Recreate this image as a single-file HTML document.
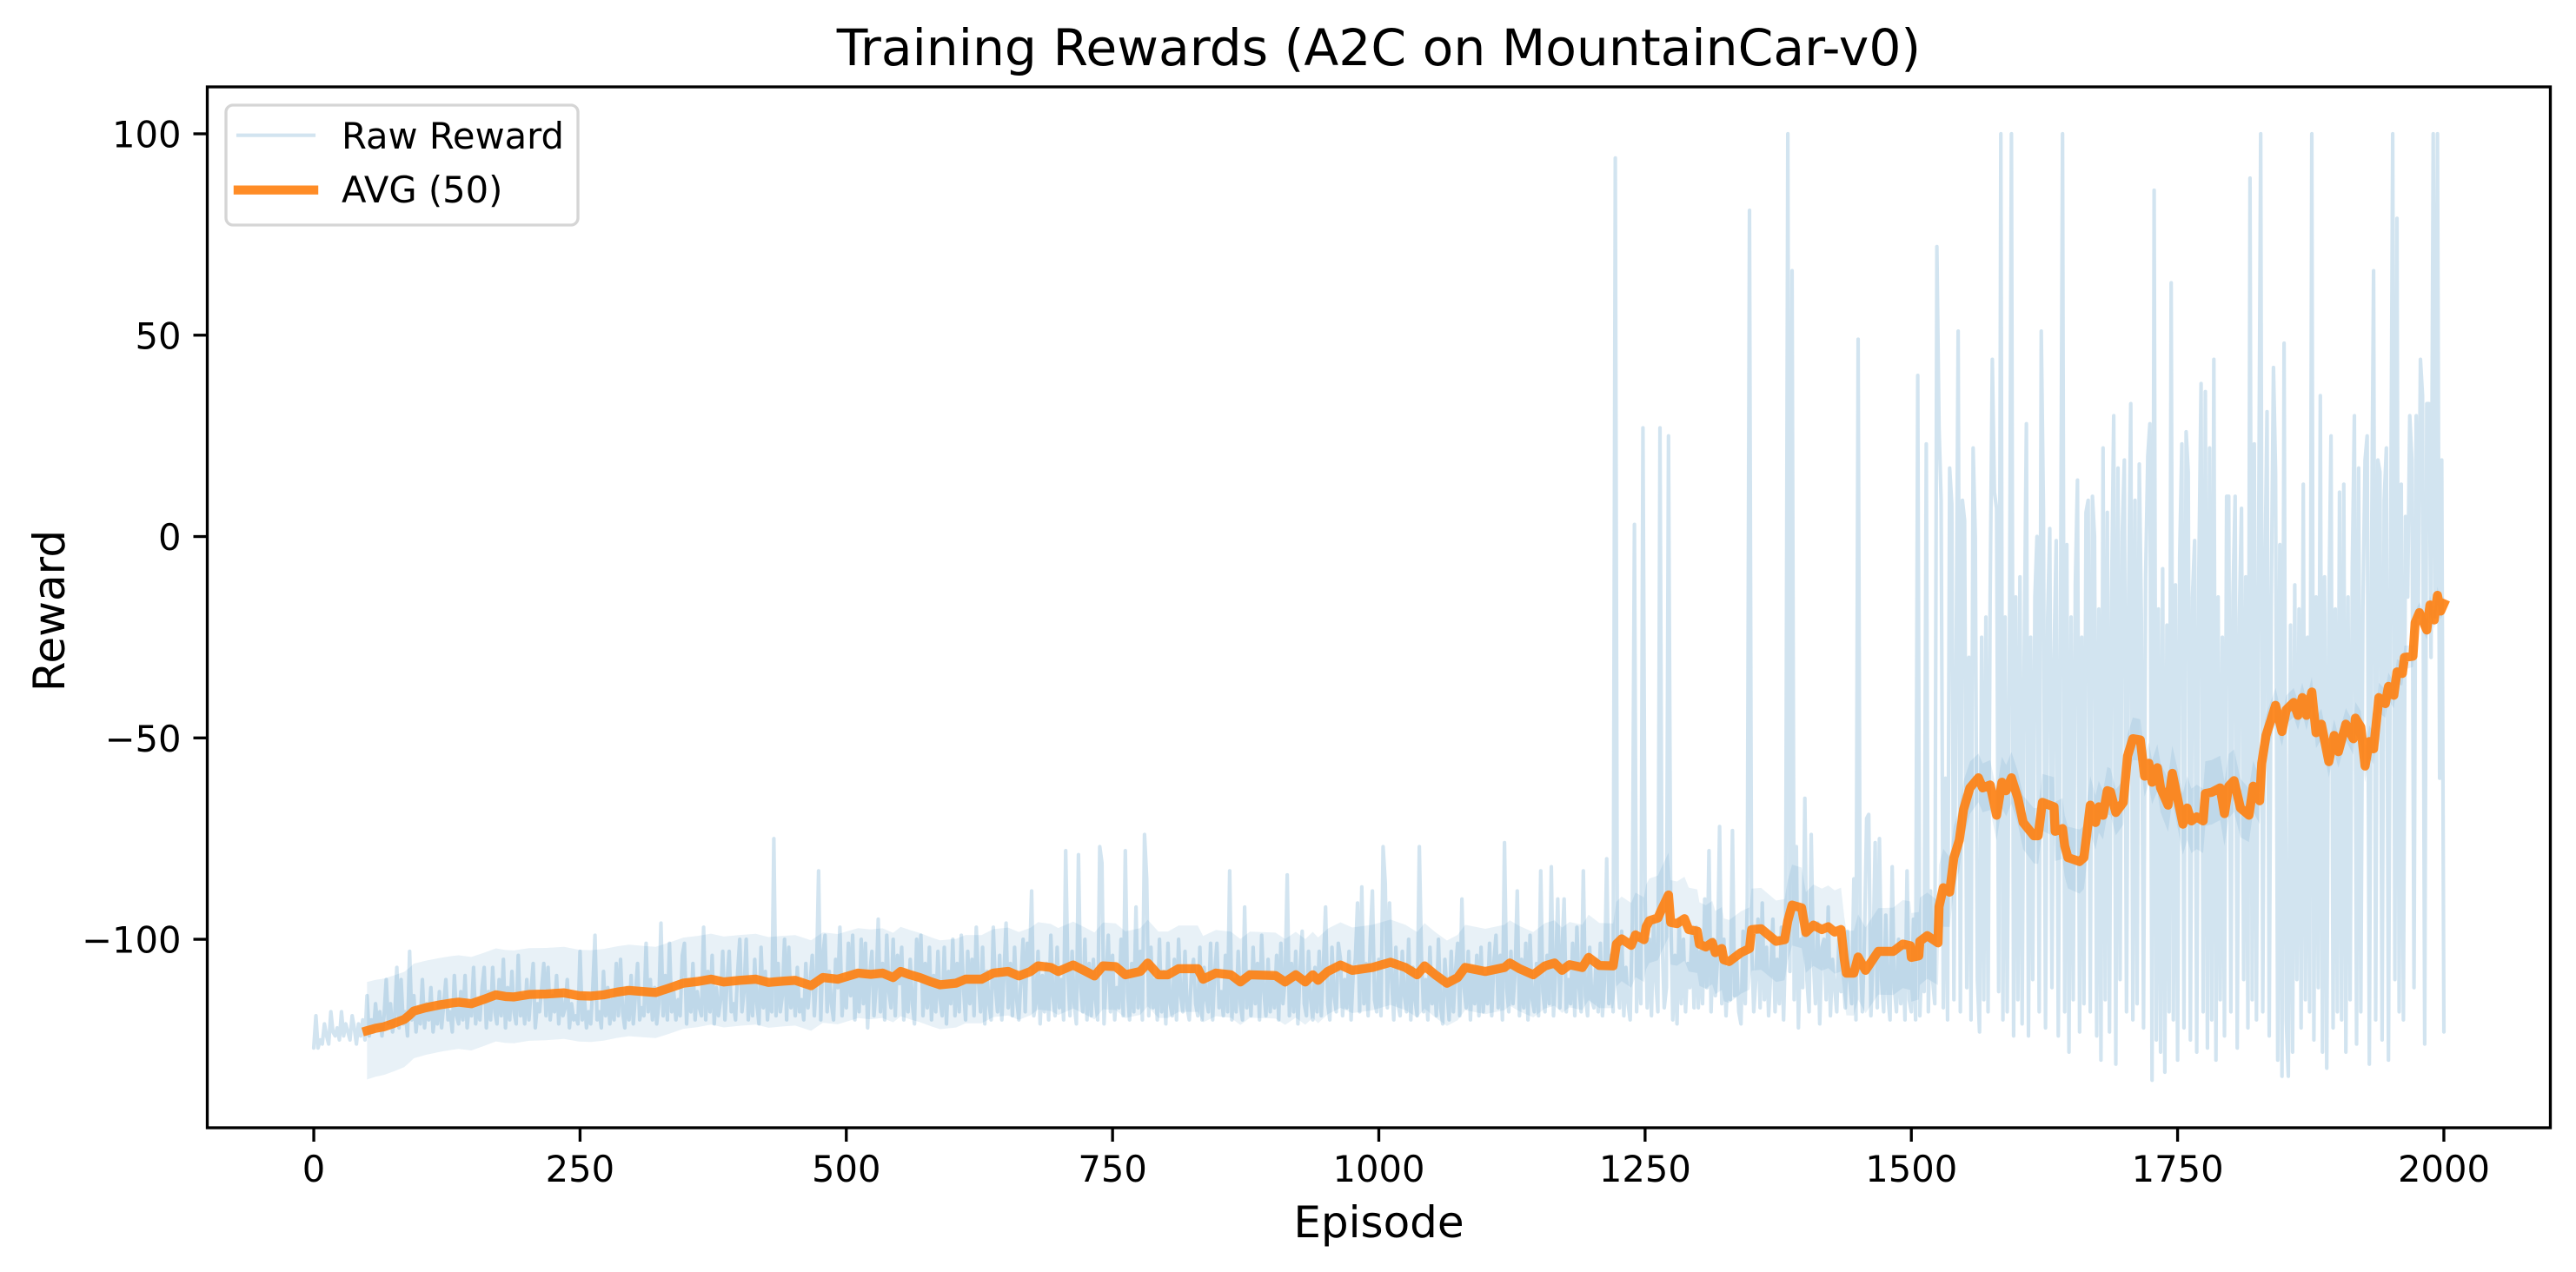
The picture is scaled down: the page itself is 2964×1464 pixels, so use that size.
<!DOCTYPE html>
<html lang="en">
<head>
<meta charset="utf-8">
<title>Training Rewards (A2C on MountainCar-v0)</title>
<style>
html,body{margin:0;padding:0;background:#fff}
svg{display:block}
text{font-family:"DejaVu Sans","Liberation Sans",sans-serif;fill:#000}
</style>
</head>
<body>
<svg id="chart" xmlns="http://www.w3.org/2000/svg" width="2964" height="1464" viewBox="0 0 2964 1464">
  <rect x="0" y="0" width="2964" height="1464" fill="#fff"/>
  <g id="series"></g>
  <rect x="238.5" y="100" width="2696" height="1198" fill="none" stroke="#000" stroke-width="3.33"/>
  <g id="ticks"></g>
  <text x="1586.5" y="75" font-size="58.33" text-anchor="middle">Training Rewards (A2C on MountainCar-v0)</text>
  <text x="1586.5" y="1424" font-size="50" text-anchor="middle">Episode</text>
  <text transform="translate(74 703) rotate(-90)" font-size="50" text-anchor="middle">Reward</text>
  <g>
    <rect x="260" y="121" width="405" height="138" rx="8" ry="8" fill="#fff" fill-opacity="0.8" stroke="#d5d5d5" stroke-width="3.33"/>
    <line x1="274" y1="155.7" x2="361" y2="155.7" stroke="#1f77b4" stroke-opacity="0.2" stroke-width="4.17" stroke-linecap="square"/>
    <text x="393" y="171" font-size="41.67">Raw Reward</text>
    <line x1="274" y1="218.7" x2="361" y2="218.7" stroke="#ff7f0e" stroke-opacity="0.9" stroke-width="10.42" stroke-linecap="square"/>
    <text x="393" y="233" font-size="41.67">AVG (50)</text>
  </g>
</svg>
<script>
var xTickValues = [0, 250, 500, 750, 1000, 1250, 1500, 1750, 2000];
var yTickValues = [-100, -50, 0, 50, 100];
var rawEpisodeStep = 2;
var rawRewards = [
-127,-119,-127,-125,-126,-121,-124,-126,-118,-123,
-124,-122,-125,-118,-124,-121,-123,-125,-119,-122,
-126,-121,-124,-120,-125,-114,-124,-120,-123,-116,
-122,-118,-124,-119,-110,-121,-116,-123,-119,-107,
-122,-110,-121,-118,-124,-103,-120,-114,-123,-117,
-121,-110,-122,-116,-120,-112,-123,-118,-121,-113,
-122,-116,-110,-120,-118,-123,-109,-119,-121,-113,
-120,-109,-122,-116,-119,-107,-121,-115,-120,-112,
-107,-122,-113,-120,-107,-118,-121,-110,-119,-105,
-122,-112,-120,-108,-118,-121,-104,-119,-114,-121,
-110,-120,-113,-106,-122,-116,-118,-112,-106,-119,
-107,-120,-114,-118,-109,-121,-113,-119,-117,-110,
-122,-116,-120,-119,-121,-103,-120,-114,-122,-118,
-121,-112,-99,-120,-118,-122,-108,-119,-112,-121,
-115,-120,-106,-119,-105,-118,-122,-112,-120,-109,
-121,-114,-106,-120,-117,-119,-101,-118,-110,-120,
-112,-121,-116,-96,-119,-109,-120,-101,-118,-113,
-120,-115,-119,-104,-101,-121,-110,-118,-106,-120,
-113,-117,-119,-97,-120,-108,-118,-104,-121,-112,
-119,-115,-103,-120,-111,-103,-118,-116,-120,-108,
-100,-118,-113,-100,-120,-110,-119,-105,-116,-121,
-102,-117,-108,-120,-112,-118,-75,-119,-106,-118,
-114,-100,-120,-102,-117,-110,-119,-107,-118,-115,
-120,-106,-117,-111,-104,-119,-109,-83,-120,-104,
-99,-118,-108,-116,-120,-105,-112,-97,-119,-110,
-117,-101,-114,-99,-120,-108,-118,-100,-116,-101,
-122,-109,-103,-119,-112,-95,-118,-106,-120,-99,
-113,-117,-100,-119,-104,-111,-102,-120,-108,-118,
-105,-116,-121,-100,-110,-99,-119,-106,-117,-102,
-120,-109,-118,-103,-115,-119,-102,-121,-108,-116,
-100,-119,-106,-118,-99,-112,-120,-103,-116,-105,
-119,-97,-110,-118,-102,-121,-108,-116,-120,-97,
-112,-118,-104,-120,-109,-96,-117,-106,-119,-102,
-115,-120,-110,-100,-118,-101,-107,-88,-119,-116,
-103,-121,-109,-118,-106,-120,-99,-114,-119,-102,
-117,-110,-120,-78,-108,-119,-103,-116,-121,-79,
-112,-118,-100,-120,-106,-119,-105,-115,-120,-77,
-81,-121,-109,-99,-118,-104,-120,-112,-117,-100,
-119,-78,-113,-120,-106,-118,-92,-117,-103,-120,
-74,-85,-119,-102,-117,-110,-120,-100,-118,-108,
-121,-101,-116,-119,-105,-120,-100,-114,-118,-103,
-117,-120,-109,-105,-116,-119,-102,-120,-107,-115,
-118,-101,-120,-108,-101,-117,-113,-119,-104,-118,
-83,-120,-110,-118,-103,-116,-120,-92,-117,-108,
-119,-102,-116,-106,-120,-99,-113,-119,-105,-118,
-109,-117,-104,-120,-101,-116,-110,-84,-119,-106,
-118,-103,-121,-108,-98,-116,-119,-103,-115,-120,
-107,-118,-103,-119,-106,-92,-116,-120,-102,-114,
-118,-101,-105,-119,-110,-117,-103,-120,-108,-105,
-91,-118,-87,-116,-106,-119,-100,-88,-115,-118,
-105,-119,-77,-86,-117,-91,-110,-120,-102,-116,
-119,-103,-114,-118,-100,-120,-107,-115,-119,-77,
-104,-118,-110,-120,-102,-116,-108,-119,-100,-117,
-121,-105,-113,-120,-103,-118,-108,-101,-119,-90,
-112,-117,-103,-120,-107,-116,-104,-119,-102,-118,
-109,-116,-101,-119,-106,-99,-117,-104,-120,-76,
-112,-118,-103,-116,-108,-88,-119,-105,-117,-101,
-120,-99,-115,-118,-106,-119,-83,-113,-118,-104,
-116,-82,-119,-108,-90,-117,-103,-90,-118,-110,
-116,-101,-119,-97,-112,-118,-83,-114,-119,-102,
-115,-117,-105,-118,-101,-119,-110,-80,-116,-104,
-118,94,-110,-117,-98,-119,-107,-116,-120,-96,
3,-118,-100,-116,27,-90,-117,-100,-119,-95,
-110,-118,27,-100,-117,-112,25,-92,-120,-104,
-121,-95,-116,-100,-118,-106,-112,-98,-117,-97,
-117,-103,-116,-90,-112,-78,-118,-100,-114,-105,
-72,-116,-100,-119,-107,-115,-73,-114,-105,-118,
-121,-98,-116,-90,81,-101,-118,-110,-95,-117,
-91,-115,-102,-119,-108,-95,-118,-105,-116,-97,
-120,-100,100,-108,66,-115,-77,-122,-100,-112,
-65,-110,-118,-74,-105,-116,-96,-121,-102,-100,
-115,-92,-119,-105,-112,-118,-100,-113,-109,-117,
-98,-110,-116,-85,-120,49,-104,-118,-100,-70,
-69,-119,-105,-76,-117,-75,-110,-118,-94,-114,
-120,-82,-112,-118,-100,-116,-102,-120,-83,-115,
-118,-95,-120,40,-119,-104,-113,23,-118,-88,
-110,-116,72,27,9,-117,-60,-120,17,8,
-115,-35,51,-118,9,4,-112,-30,-120,22,
0,-110,-123,-25,-115,-20,-118,-15,44,11,
7,-113,100,-120,-20,-118,-35,100,-124,-15,
-115,-10,-121,-30,28,-124,-25,-110,-15,0,
-118,51,7,-122,-20,2,-112,-30,-1,-124,
-25,100,-118,-2,-128,-20,-115,-12,14,-123,
-25,-116,6,9,-118,10,0,-124,-18,-130,
22,-115,6,-123,-15,30,-131,17,-110,1,
19,-118,-15,33,-120,9,-116,18,-20,-122,
-10,20,28,-135,86,-125,-18,-128,-8,-133,
-22,-118,63,-120,-12,-130,-5,23,-122,26,
16,-125,-15,-1,-128,-8,38,-118,36,-127,
22,-120,44,-130,-15,-115,-25,-124,10,10,
-118,-15,10,-127,-20,7,-110,-10,-122,89,
-115,23,-120,-8,100,-118,-10,31,-124,-15,
42,16,-130,-2,-134,48,-120,-134,-22,-128,
-12,-110,-18,-122,13,-115,-25,-118,100,-125,
-15,-112,35,-128,-10,-132,-20,25,-122,-18,
-118,11,-120,13,-128,-15,-115,-8,30,-126,
17,-118,-18,19,25,-131,-10,66,-120,19,
16,-125,9,22,-130,-5,100,-110,79,-118,
13,-120,5,-15,30,19,-112,30,-20,44,
35,-126,33,33,-30,100,-20,100,-60,19,
-123
];
var avgEpisodes = [
50,58,66,75,85,90,94,105,118,130,
136,148,160,171,180,188,202,218,235,249,
260,272,285,296,310,321,335,347,360,373,
385,400,415,427,440,452,467,478,492,511,
523,534,544,551,560,569,580,588,603,612,
627,638,652,662,673,680,692,699,713,723,
733,741,753,762,776,783,793,802,812,830,
835,847,861,870,879,903,912,922,931,938,
943,952,964,975,994,1011,1025,1036,1043,1053,
1064,1074,1081,1100,1118,1123,1132,1145,1156,1165,
1172,1179,1191,1197,1207,1220,1223,1228,1237,1241,
1249,1251,1254,1262,1265,1272,1274,1280,1287,1291,
1299,1301,1307,1313,1316,1322,1324,1329,1340,1348,
1350,1359,1373,1381,1384,1388,1397,1401,1408,1416,
1422,1428,1434,1437,1439,1446,1450,1457,1469,1483,
1492,1499,1500,1507,1508,1515,1525,1526,1530,1536,
1540,1545,1549,1555,1563,1567,1574,1580,1585,1589,
1594,1600,1605,1615,1619,1623,1634,1635,1642,1644,
1647,1658,1662,1668,1673,1676,1680,1684,1687,1692,
1699,1703,1708,1715,1719,1723,1726,1731,1734,1741,
1745,1749,1755,1759,1763,1768,1774,1776,1782,1790,
1794,1798,1803,1809,1817,1821,1827,1829,1833,1839,
1842,1848,1852,1859,1863,1867,1871,1876,1880,1885,
1892,1897,1901,1908,1915,1917,1922,1926,1930,1934,
1939,1945,1948,1953,1956,1961,1963,1971,1973,1977,
1984,1987,1991,1994,1997,2000
];
var avgRewards = [
-122.7,-122.1,-121.7,-120.9,-119.9,-118.8,-117.8,-117,-116.3,-115.8,
-115.6,-116,-114.9,-113.8,-114.2,-114.3,-113.7,-113.6,-113.3,-114,
-114.1,-113.8,-113.1,-112.7,-113,-113.2,-112,-110.9,-110.5,-109.9,
-110.6,-110.2,-109.9,-110.7,-110.4,-110.2,-111.5,-109.5,-109.9,-108.4,
-108.7,-108.4,-109.5,-108,-108.8,-109.5,-110.6,-111.3,-110.9,-109.9,
-109.9,-108.4,-108,-109.1,-108,-106.6,-107,-108,-106.4,-107.7,
-109.1,-106.6,-106.8,-108.8,-108,-105.9,-108.8,-108.8,-107.3,-107.3,
-109.9,-108.4,-108.8,-110.6,-108.8,-109,-110.6,-108.8,-110.6,-108.8,
-110.2,-108,-106.4,-107.7,-107,-105.7,-107,-108.8,-106.6,-108.8,
-110.9,-109.5,-107,-108,-107,-105.9,-107.3,-108.8,-106.6,-105.9,
-107.7,-106.3,-107,-104.5,-106.5,-106.6,-101.2,-99.9,-101.5,-98.9,
-100.1,-96.9,-95.4,-94.7,-92.9,-89,-95.8,-96.1,-94.9,-97.6,
-98,-101.2,-101.9,-100.8,-103.3,-102.3,-105.1,-105.5,-103.3,-102.3,
-97.6,-97.4,-100.5,-100.1,-95.4,-91.5,-92.2,-98.3,-96.5,-97.6,
-96.9,-98.2,-97.6,-104.8,-108.4,-108.4,-104.4,-107.7,-103,-103,
-101.2,-101.6,-104.5,-104.1,-100.5,-99.1,-100.9,-91.9,-87.2,-88.3,
-79.7,-75.4,-67.8,-62.4,-59.9,-62.4,-61.7,-69.2,-61,-63.1,
-59.9,-64.9,-71,-74.3,-74.3,-66,-67.1,-73.2,-72.5,-76.8,
-79.7,-80.7,-79.7,-66.7,-71,-67.1,-69.2,-63.1,-63.4,-68.5,
-66,-54.5,-50.2,-50.5,-59.5,-56.3,-61,-57.4,-62.4,-66.7,
-58.8,-63.8,-71.4,-67.4,-70.6,-69.6,-70.6,-63.8,-63.5,-62.4,
-68.8,-62,-60.6,-67.4,-69.2,-62,-65.6,-56.3,-49.4,-44.4,
-41.9,-48.4,-43,-41.2,-44.4,-40,-44.4,-38.6,-48.7,-46.6,
-55.9,-49.4,-53.4,-46.6,-50.2,-45.1,-47.3,-57,-50.9,-52.7,
-40,-41.5,-37.2,-39.4,-33.6,-34,-30,-29.7,-21.4,-18.9,
-23.2,-17,-20.7,-14.6,-18.5,-16.7
];
var bandEpisodes = [50,100,250,500,700,1000,1200,1225,1270,1400,1440,1500,1525,1540,1560,1600,1660,1680,1720,1760,1800,1825,1850,1900,1930,1960,2000];
var bandStd = [12.1,11.7,11.4,11.2,10.8,10.6,10.6,10.5,10.5,10,10.5,11,10.5,8,6,6.5,8,6,5,8,8,6,3.5,4,4,3,2];

var svgNS = 'http://www.w3.org/2000/svg';
var plotLeft = 238.5, plotRight = 2934.5, plotTop = 100, plotBottom = 1298;
var xMin = -100, xMax = 2100, yMin = -146.8, yMax = 111.65;

function xScale(v) { return plotLeft + (v - xMin) / (xMax - xMin) * (plotRight - plotLeft); }
function yScale(v) { return plotBottom - (v - yMin) / (yMax - yMin) * (plotBottom - plotTop); }
function bandAt(ep) {
  for (var i = 1; i < bandEpisodes.length; i++) {
    if (ep <= bandEpisodes[i]) {
      var t = (ep - bandEpisodes[i - 1]) / (bandEpisodes[i] - bandEpisodes[i - 1]);
      return bandStd[i - 1] + t * (bandStd[i] - bandStd[i - 1]);
    }
  }
  return bandStd[bandStd.length - 1];
}
function pt(x, y) { return x.toFixed(1) + ' ' + y.toFixed(1); }

var seriesGroup = document.getElementById('series');
var ticksGroup = document.getElementById('ticks');

var rawD = rawRewards.map(function (v, i) {
  return (i ? 'L' : 'M') + pt(xScale(i * rawEpisodeStep), yScale(v));
}).join('');
var rawPath = document.createElementNS(svgNS, 'path');


rawPath.setAttribute('d', rawD);
rawPath.setAttribute('fill', 'none');
rawPath.setAttribute('stroke', '#1f77b4');
rawPath.setAttribute('stroke-opacity', '0.2');
rawPath.setAttribute('stroke-width', '4.17');
rawPath.setAttribute('stroke-linejoin', 'round');
rawPath.setAttribute('stroke-linecap', 'round');
seriesGroup.appendChild(rawPath);

var upper = avgEpisodes.map(function (ep, i) { return pt(xScale(ep), yScale(avgRewards[i] + bandAt(ep))); });
var lower = avgEpisodes.map(function (ep, i) { return pt(xScale(ep), yScale(avgRewards[i] - bandAt(ep))); }).reverse();
var bandPath = document.createElementNS(svgNS, 'path');


bandPath.setAttribute('d', 'M' + upper.concat(lower).join('L') + 'Z');
bandPath.setAttribute('fill', '#1f77b4');
bandPath.setAttribute('fill-opacity', '0.1');
seriesGroup.appendChild(bandPath);

var avgD = avgEpisodes.map(function (ep, i) {
  return (i ? 'L' : 'M') + pt(xScale(ep), yScale(avgRewards[i]));
}).join('');
var avgPath = document.createElementNS(svgNS, 'path');


avgPath.setAttribute('d', avgD);
avgPath.setAttribute('fill', 'none');
avgPath.setAttribute('stroke', '#ff7f0e');
avgPath.setAttribute('stroke-opacity', '0.9');
avgPath.setAttribute('stroke-width', '10.42');
avgPath.setAttribute('stroke-linejoin', 'round');
avgPath.setAttribute('stroke-linecap', 'square');
seriesGroup.appendChild(avgPath);

xTickValues.forEach(function (v) {
  var x = xScale(v);
  var mark = document.createElementNS(svgNS, 'line');
  
  
  mark.setAttribute('x1', x);
  mark.setAttribute('x2', x);
  mark.setAttribute('y1', plotBottom);
  mark.setAttribute('y2', plotBottom + 16);
  mark.setAttribute('stroke', '#000');
  mark.setAttribute('stroke-width', '3.33');
  ticksGroup.appendChild(mark);
  var label = document.createElementNS(svgNS, 'text');
  
  
  label.setAttribute('x', x);
  label.setAttribute('y', plotBottom + 62);
  label.setAttribute('font-size', '41.67');
  label.setAttribute('text-anchor', 'middle');
  label.textContent = String(v);
  ticksGroup.appendChild(label);
});

yTickValues.forEach(function (v) {
  var y = yScale(v);
  var mark = document.createElementNS(svgNS, 'line');
  
  
  mark.setAttribute('x1', plotLeft - 16);
  mark.setAttribute('x2', plotLeft);
  mark.setAttribute('y1', y);
  mark.setAttribute('y2', y);
  mark.setAttribute('stroke', '#000');
  mark.setAttribute('stroke-width', '3.33');
  ticksGroup.appendChild(mark);
  var label = document.createElementNS(svgNS, 'text');
  
  
  label.setAttribute('x', plotLeft - 30);
  label.setAttribute('y', y + 15.5);
  label.setAttribute('font-size', '41.67');
  label.setAttribute('text-anchor', 'end');
  label.textContent = String(v).replace('-', '\u2212');
  ticksGroup.appendChild(label);
});
</script>
</body>
</html>
